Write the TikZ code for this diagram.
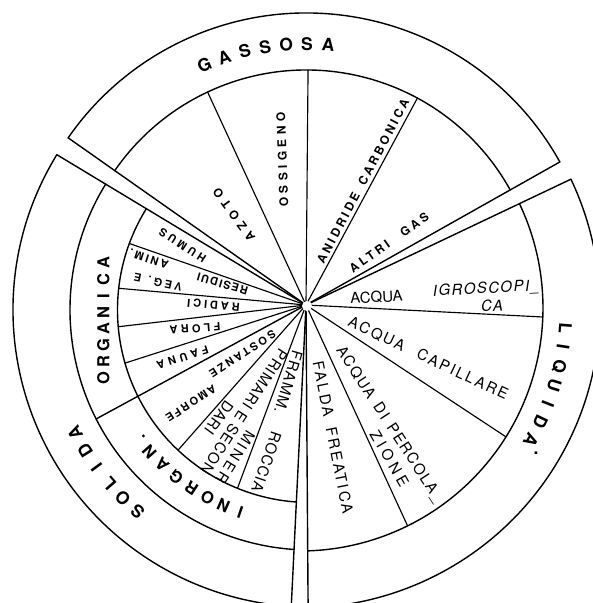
\documentclass[tikz,border=0pt]{standalone}
\usepackage{fontspec}
\usetikzlibrary{calc}
\newfontfamily\heros{TeX Gyre Heros}
\newcommand\bandfont{\heros\bfseries\fontsize{17.5}{20}\selectfont}
\newcommand\bandfontb{\heros\bfseries\fontsize{16.5}{19}\selectfont}
\newcommand\liqfont{\heros\fontsize{15}{17}\selectfont}
\newcommand\gasfont{\heros\bfseries\fontsize{12}{14}\selectfont}
\newcommand\orgfont{\heros\bfseries\fontsize{11}{13}\selectfont}
\newcommand\lsp[1]{\addfontfeatures{LetterSpace=#1}}
\begin{document}
\begin{tikzpicture}[x=1pt,y=1pt,
  outline/.style={line width=1.4pt, line join=round, line cap=round},
  radial/.style={line width=1.15pt, line cap=round},
  bandletter/.style={font=\bandfont, inner sep=0pt, text height=12.6pt, text depth=0pt},
  bandletterb/.style={font=\bandfontb, inner sep=0pt, text height=11.9pt, text depth=0pt},
  gaslbl/.style={inner sep=0pt, text height=8.6pt, text depth=0pt},
  orglbl/.style={inner sep=0pt, text height=7.9pt, text depth=0pt},
  liqlbl/.style={inner sep=0pt, text height=10.8pt, text depth=0pt}]
\useasboundingbox (-306,-298) rectangle (287,305);
\fill[white] (-306,-298) rectangle (287,305);
\clip (-306,-298) rectangle (287,305);

\coordinate (P) at (0,0);
\coordinate (Cg) at (0.5,2);
\coordinate (Cl) at (-6,-3);
\coordinate (Cs) at (4,-5);

% ---------- GASSOSA ----------
\draw[outline] ($(Cg)+(29.1:290)$) arc[start angle=29.1,end angle=145.28,radius=290];
\draw[outline] ($(Cg)+(29.03:233)$) arc[start angle=29.03,end angle=145.37,radius=233];
\draw[outline] (P) -- (144.9:290.73);
\draw[outline] (P) -- (29.4:291.4);
\foreach \a/\t in {114.8/234.6, 89.5/235, 61.7/235} \draw[radial] (P) -- (\a:\t);

% ---------- LIQUIDA ----------
\draw[outline] ($(Cl)+(25.42:300)$) arc[start angle=25.42,end angle=-88.47,radius=300];
\draw[outline] ($(Cl)+(25.43:243)$) arc[start angle=25.43,end angle=-88.18,radius=243];
\draw[outline] (P) -- (25.4:293.3);
\draw[outline] (P) -- (-89.6:320);
\foreach \a/\t in {-2.9/237.1, -33.4/239.6, -65.3/243.1} \draw[radial] (P) -- (\a:\t);

% ---------- SOLIDA ----------
\draw[outline] ($(Cs)+(148.47:297)$) arc[start angle=148.47,end angle=266.38,radius=297];
\draw[outline] ($(Cs)+(148.37:240)$) arc[start angle=148.37,end angle=266.19,radius=240];
\draw[outline] ($(Cs)+(148.24:192.5)$) arc[start angle=148.24,end angle=265.94,radius=192.5];
\draw[outline] (P) -- (148.9:291);
\draw[outline] (P) -- (267.2:320);
\draw[outline] (P) -- (208.5:238.9);
\foreach \a/\t in {160.8/187.05, 174.9/188, 186.6/189, 197.8/190.1, 228.6/193.5, 249.5/195.7}
  \draw[radial] (P) -- (\a:\t);

\fill[white] (1,-1) circle[radius=5];

% ---------- band titles ----------
\foreach \a/\ch [count=\i] in {113.2/G,108.5/A,103.8/S,99.2/S,94.5/O,89.9/S,85.2/A}
  \node[bandletter, rotate=\a-90] (gas\i) at ($(Cg)+(\a:259)$) {\ch};
\foreach \a/\ch [count=\i] in {-4.3/L,-8.5/I,-12.7/Q,-17.0/U,-21.2/I,-25.4/D,-29.7/A}
  \node[bandletter, rotate=\a-90] (liq\i) at ($(Cl)+(\a:266)$) {\ch};
\node[font=\bandfont, inner sep=0pt] (liqdot) at (230,-148) {.};
\foreach \a/\ch [count=\i] in {229.4/S,225.1/O,220.8/L,216.4/I,212.0/D,207.6/A}
  \node[bandletter, rotate=\a-90] (sol\i) at ($(Cs)+(\a:265)$) {\ch};
\foreach \a/\ch [count=\i] in {251.0/I,246.2/N,241.4/O,236.4/R,231.3/G,226.3/A,221.4/N,217.3/.}
  \node[bandletterb, rotate=\a-90] (inorg\i) at ($(Cs)+(\a:214)$) {\ch};
\foreach \ch [count=\i from 0] in {O,R,G,A,N,I,C,A}
  \node[bandletterb, rotate=90] (org\i) at (-202.5,-73+16.43*\i) {\ch};

% ---------- gas labels ----------
\node[gaslbl, font={\gasfont\lsp{36}}, rotate=92] (ossigeno) at (-23.5,145.2) {OSSIGENO};
\node[gaslbl, font={\gasfont\lsp{44}}, rotate=126] (azoto) at (-72,90) {AZOTO};
\node[gaslbl, font={\gasfont\lsp{24}}, rotate=62.2] (anidride) at (57,123.5) {ANIDRIDE\hspace{10pt}CARBONICA};
\node[gaslbl, font={\gasfont\lsp{25}}, rotate=35.2] (altri) at (83,62.5) {ALTRI\hspace{16pt}GAS};

% ---------- liquid labels ----------
\node[liqlbl, font={\liqfont}, rotate=3] (acqua) at (70.5,8) {ACQUA};
\node[liqlbl, font={\liqfont\itshape\lsp{10}}, rotate=3] (igro) at (180,17) {IGROSCOPI\_};
\node[liqlbl, font={\liqfont\itshape\lsp{10}}, rotate=3] (ca) at (186,-1) {CA};
\node[liqlbl, font={\liqfont\lsp{14}}, rotate=-25.2] (capill) at (122.5,-53) {ACQUA\hspace{15pt}CAPILLARE};
\node[liqlbl, font={\liqfont\lsp{10}}, rotate=-56.85] (percola) at (84.2,-118.9) {ACQUA\hspace{9pt}DI\hspace{8pt}PERCOLA\_};
\node[liqlbl, font={\liqfont\lsp{28}}, rotate=-60] (zione) at (83.5,-153.5) {ZIONE};
\node[liqlbl, font={\liqfont\lsp{15}}, rotate=-78.8] (falda) at (27,-132.5) {FALDA\hspace{11pt}FREATICA};

% ---------- organic labels ----------
\node[orglbl, font={\orgfont\lsp{30}}, rotate=147] (humus) at (-123.5,59.5) {HUMUS};
\node[orglbl, font={\orgfont\lsp{12}}, rotate=164] (residui) at (-83.5,21) {RESIDUI};
\node[orglbl, font={\orgfont\lsp{25}}, rotate=168] (veg) at (-148,23) {VEG.\hspace{7pt}E};
\node[orglbl, font={\orgfont\lsp{21}}, rotate=162] (anim) at (-157,46) {ANIM.};
\node[orglbl, font={\orgfont\lsp{27}}, rotate=175] (radici) at (-92.5,0) {RADICI};
\node[orglbl, font={\orgfont\lsp{30}}, rotate=184] (flora) at (-111,-23.5) {FLORA};
\node[orglbl, font={\orgfont\lsp{37}}, rotate=198] (fauna) at (-123.5,-52.5) {FAUNA};
\node[orglbl, font={\orgfont\lsp{23}}, rotate=213] (sostanze) at (-63.5,-49) {SOSTANZE};
\node[orglbl, font={\orgfont\lsp{18}}, rotate=213] (amorfe) at (-115,-98.5) {AMORFE};

% ---------- inorganic labels ----------
\node[liqlbl, font={\liqfont\lsp{18}}, rotate=238] (miner) at (-70.5,-152) {MINER};
\node[liqlbl, font={\liqfont\lsp{7}}, rotate=237] (primari) at (-62,-107) {PRIMARI\hspace{5pt}E\hspace{5pt}SECON};
\node[liqlbl, font={\liqfont\lsp{5}}, rotate=234] (dari) at (-87,-112.5) {DARI};
\node[liqlbl, font={\liqfont\lsp{8}}, rotate=253.4] (framm) at (-17.5,-77) {FRAMM.};
\node[liqlbl, font={\liqfont\lsp{7}}, rotate=251] (roccia) at (-39.5,-157) {ROCCIA};
\end{tikzpicture}
\end{document}
